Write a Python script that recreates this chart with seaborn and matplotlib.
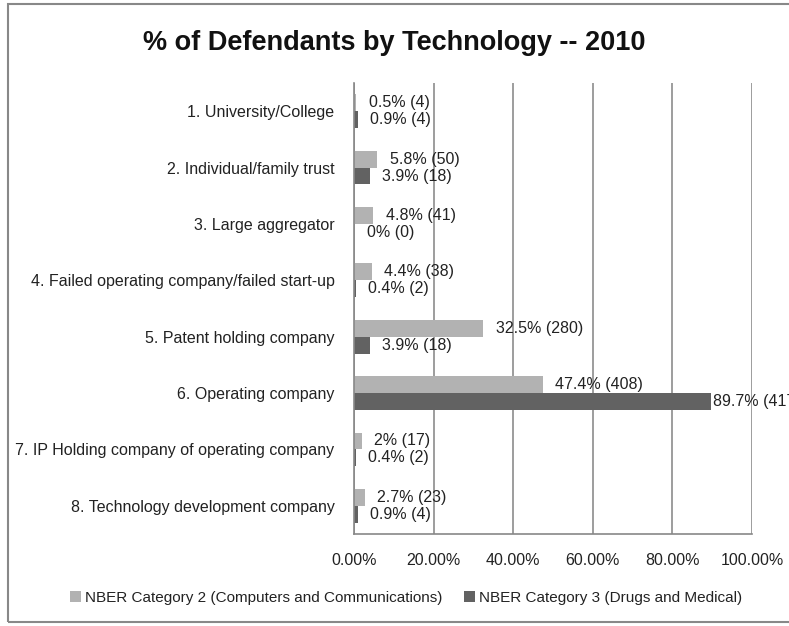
import pandas as pd
import matplotlib
matplotlib.use("Agg")
import matplotlib.pyplot as plt
import seaborn as sns
from matplotlib.patches import Rectangle

categories = [
    "1. University/College",
    "2. Individual/family trust",
    "3. Large aggregator",
    "4. Failed operating company/failed start-up",
    "5. Patent holding company",
    "6. Operating company",
    "7. IP Holding company of operating company",
    "8. Technology development company",
]
series_names = [
    "NBER Category 2 (Computers and Communications)",
    "NBER Category 3 (Drugs and Medical)",
]
pct_cat2 = [0.5, 5.8, 4.8, 4.4, 32.5, 47.4, 2.0, 2.7]
cnt_cat2 = [4, 50, 41, 38, 280, 408, 17, 23]
pct_cat3 = [0.9, 3.9, 0.0, 0.4, 3.9, 89.7, 0.4, 0.9]
cnt_cat3 = [4, 18, 0, 2, 18, 417, 2, 4]
x_ticks = [0, 20, 40, 60, 80, 100]

colors = ["#b2b2b2", "#626262"]

df = pd.DataFrame({
    "category": categories * 2,
    "series": [series_names[0]] * len(categories) + [series_names[1]] * len(categories),
    "pct": pct_cat2 + pct_cat3,
    "count": cnt_cat2 + cnt_cat3,
})

sns.set_style("white")
plt.rcParams["font.family"] = ["Liberation Sans", "DejaVu Sans"]

fig = plt.figure(figsize=(7.89, 6.26), dpi=100)
ax = fig.add_axes([0.4487, 0.147, 0.5043, 0.7204])

sns.barplot(data=df, y="category", x="pct", hue="series", order=categories,
            hue_order=series_names, palette=colors, orient="h", width=0.6,
            saturation=1, linewidth=0, ax=ax, legend=True)

for container, pcts, cnts in zip(ax.containers, [pct_cat2, pct_cat3], [cnt_cat2, cnt_cat3]):
    for bar, p, c in zip(container, pcts, cnts):
        # long bars get their label tucked right against the end, like the original
        pad = 1.5 if p > 80 else 9
        ax.annotate(f"{p:g}% ({c})", (bar.get_width(), bar.get_y() + bar.get_height() / 2),
                    xytext=(pad, 0), textcoords="offset points", ha="left", va="center",
                    fontsize=11.5, color="#222222", annotation_clip=False)

ax.set_xlim(0, 100)
ax.set_ylim(len(categories) - 0.5, -0.5)
ax.set_xticks(x_ticks)
ax.set_xticklabels([f"{v:.2f}%" for v in x_ticks], fontsize=11.5, color="#222222")
ax.set_yticks(range(len(categories)))
ax.set_yticklabels(categories, fontsize=11.5, color="#222222")
ax.set_yticks([i - 0.5 for i in range(len(categories) + 1)], minor=True)
ax.tick_params(axis="y", which="major", length=0, pad=14)
ax.tick_params(axis="y", which="minor", length=5, color="#888888", width=1)
ax.tick_params(axis="x", which="major", length=5, color="#888888", width=1, pad=9)
ax.set_xlabel("")
ax.set_ylabel("")
ax.xaxis.grid(True, color="#8c8c8c", linewidth=1.2)
ax.set_axisbelow(True)
for side in ["top", "right"]:
    ax.spines[side].set_visible(False)
for side in ["left", "bottom"]:
    ax.spines[side].set_color("#888888")
    ax.spines[side].set_linewidth(1.2)

handles, labels = ax.get_legend_handles_labels()
ax.legend_.remove()
fig.legend(handles, labels, loc="center", bbox_to_anchor=(0.515, 0.045), ncol=2,
           frameon=False, fontsize=11, handlelength=0.7, handleheight=0.7,
           handletextpad=0.3, columnspacing=1.4, labelcolor="#222222")

fig.text(0.5, 0.932, "% of Defendants by Technology -- 2010", ha="center", va="center",
         fontsize=19.5, fontweight="bold", color="#111111")

fig.patches.append(Rectangle((0.01, 0.006), 1.0, 0.988, transform=fig.transFigure,
                             fill=False, edgecolor="#888888", linewidth=1.5))

fig.savefig("out.png", dpi=100)
